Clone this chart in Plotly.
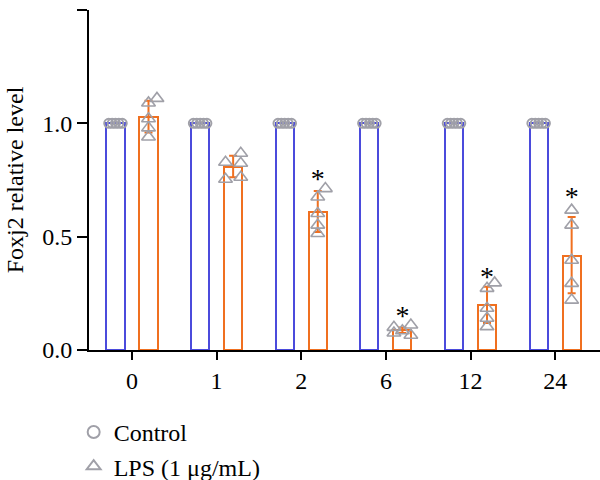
import plotly.graph_objects as go

categories = ["0", "1", "2", "6", "12", "24"]
control_mean = [1.0, 1.0, 1.0, 1.0, 1.0, 1.0]
lps_points = [
    [1.11, 1.09, 1.02, 0.98, 0.94],
    [0.868, 0.828, 0.824, 0.753, 0.762],
    [0.712, 0.675, 0.602, 0.551, 0.514],
    [0.11, 0.10, 0.085, 0.075, 0.065],
    [0.296, 0.272, 0.184, 0.14, 0.103],
    [0.617, 0.551, 0.396, 0.294, 0.22],
]
lps_mean = [1.03, 0.807, 0.611, 0.087, 0.199, 0.415]
lps_err_plus = [0.07, 0.05, 0.09, 0.012, 0.08, 0.172]
lps_err_minus = [0.07, 0.045, 0.09, 0.012, 0.08, 0.165]
lps_jitter = [
    [0.1, 0.0, 0.0, 0.0, 0.0],
    [0.09, -0.09, 0.09, -0.09, 0.09],
    [0.09, 0.0, 0.0, 0.0, 0.0],
    [0.1, -0.1, 0.0, -0.1, 0.1],
    [0.09, 0.0, 0.0, 0.0, 0.0],
    [0.0, 0.0, 0.0, 0.0, 0.0],
]
control_jitter = [-0.08, -0.04, 0.0, 0.04, 0.08]
# height of the significance asterisk per group (None = not significant)
star_level = [None, None, 0.747, 0.143, 0.315, 0.667]

BLUE = "#4b4bdc"
ORANGE = "#f07020"
GREY = "#a0a0a8"
FONT = "Liberation Serif"
FS = 24
OFF = 0.195
W = 0.215

idx = list(range(len(categories)))
fig = go.Figure()

fig.add_trace(go.Bar(
    x=[i - OFF for i in idx], y=control_mean, width=W,
    marker=dict(color="rgba(255,255,255,0)", line=dict(color=BLUE, width=2)),
    showlegend=False, hoverinfo="skip"))
fig.add_trace(go.Bar(
    x=[i + OFF for i in idx], y=lps_mean, width=W,
    marker=dict(color="rgba(255,255,255,0)", line=dict(color=ORANGE, width=2)),
    error_y=dict(type="data", symmetric=False, array=lps_err_plus,
                 arrayminus=lps_err_minus, color=ORANGE, thickness=2, width=4),
    showlegend=False, hoverinfo="skip"))

# control points
cx, cy = [], []
for i in idx:
    for j in control_jitter:
        cx.append(i - OFF + j)
        cy.append(control_mean[i])
fig.add_trace(go.Scatter(
    x=cx, y=cy, mode="markers", name="Control",
    marker=dict(symbol="circle-open", size=9, color=GREY, line=dict(width=2))))

# LPS points
lx, ly = [], []
for i in idx:
    for v, j in zip(lps_points[i], lps_jitter[i]):
        lx.append(i + OFF + j)
        ly.append(v)
fig.add_trace(go.Scatter(
    x=lx, y=ly, mode="markers", name="LPS (1 μg/mL)",
    marker=dict(symbol="triangle-up-open", size=12, color=GREY, line=dict(width=1.6))))

# significance stars
sx, sy = [], []
for i in idx:
    if star_level[i] is not None:
        sx.append(i + OFF)
        sy.append(star_level[i])
fig.add_trace(go.Scatter(
    x=sx, y=sy, mode="text", text=["*"] * len(sx), textposition="middle center",
    textfont=dict(family=FONT, size=28, color="black"),
    showlegend=False, hoverinfo="skip"))

fig.update_layout(
    width=600, height=480,
    margin=dict(l=89, r=0, t=10, b=130, autoexpand=False),
    plot_bgcolor="white", paper_bgcolor="white",
    barmode="overlay", bargap=0,
    font=dict(family=FONT, size=FS, color="black"),
    legend=dict(x=-0.03, y=-0.176, xanchor="left", yanchor="top",
                font=dict(family=FONT, size=FS), tracegroupgap=0,
                itemsizing="constant", bgcolor="rgba(0,0,0,0)"),
    xaxis=dict(range=[-0.508, 5.53], tickmode="array", tickvals=idx,
               ticktext=categories, showline=True, linecolor="black",
               linewidth=2, ticks="outside", ticklen=8, tickwidth=2,
               tickcolor="black", showgrid=False, zeroline=False),
    yaxis=dict(range=[0, 1.5], tickvals=[0, 0.5, 1.0, 1.5],
               ticktext=["0.0", "0.5", "1.0", "1.5"], showline=True,
               linecolor="black", linewidth=2, ticks="outside", ticklen=10,
               tickwidth=2, tickcolor="black", showgrid=False, zeroline=False,
               title=dict(text="Foxj2 relative level", standoff=12,
                          font=dict(family=FONT, size=FS))),
)

fig.write_html("out.html")
